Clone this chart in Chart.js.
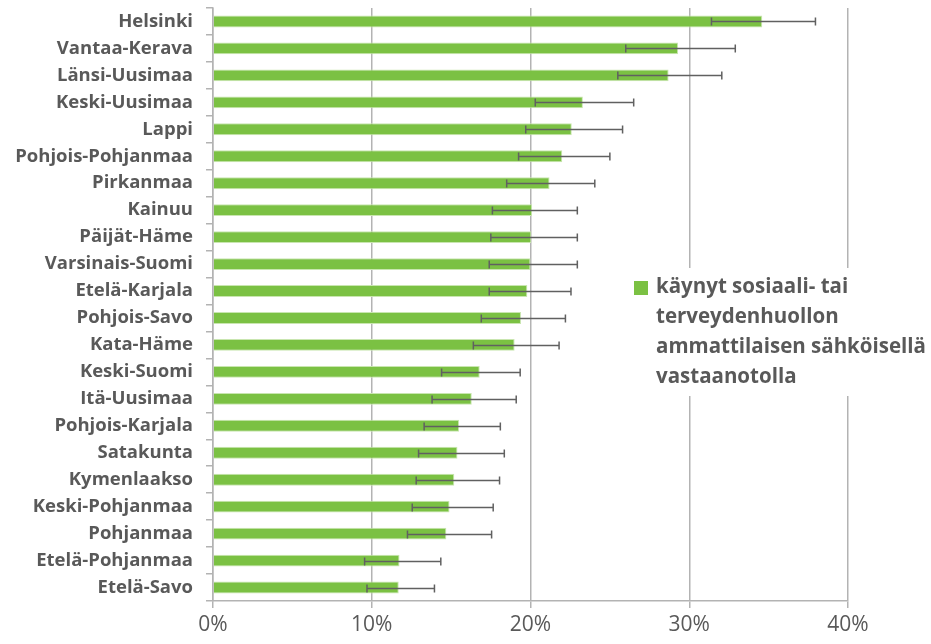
<!DOCTYPE html>
<html>
<head>
<meta charset="utf-8">
<script src="https://cdn.jsdelivr.net/npm/chart.js@4"></script>
<style>
  html,body{margin:0;padding:0;background:#fff;}
  #wrap{width:931px;height:644px;position:relative;}
</style>
</head>
<body>
<div id="wrap"><canvas id="chart"></canvas></div>
<script>
/* alueet, osuus (%) ja 95 %:n luottamusvälit */
const regions = ["Helsinki","Vantaa-Kerava","Länsi-Uusimaa","Keski-Uusimaa","Lappi","Pohjois-Pohjanmaa",
  "Pirkanmaa","Kainuu","Päijät-Häme","Varsinais-Suomi","Etelä-Karjala","Pohjois-Savo","Kata-Häme",
  "Keski-Suomi","Itä-Uusimaa","Pohjois-Karjala","Satakunta","Kymenlaakso","Keski-Pohjanmaa",
  "Pohjanmaa","Etelä-Pohjanmaa","Etelä-Savo"];
const share = [34.6,29.3,28.7,23.3,22.6,22.0,21.2,20.1,20.05,20.0,19.8,19.4,19.0,16.8,16.3,15.5,15.4,15.2,14.9,14.7,11.75,11.7];
const ciLow = [31.4,26.0,25.5,20.3,19.7,19.25,18.5,17.6,17.5,17.4,17.4,16.9,16.4,14.4,13.8,13.3,12.95,12.8,12.55,12.25,9.55,9.7];
const ciHigh = [37.95,32.9,32.05,26.5,25.8,25.0,24.05,22.95,22.95,22.95,22.55,22.2,21.8,19.35,19.1,18.1,18.35,18.05,17.65,17.55,14.35,13.95];
const xTicks = [0,10,20,30,40];
const seriesLabel = ["käynyt sosiaali- tai","terveydenhuollon","ammattilaisen sähköisellä","vastaanotolla"];

const GREEN = "#7bc143";
const TEXT = "#595959";
const GRID = "#b3b3b3";

// virhepalkit piirretään palkkien päälle x-skaalan kautta
const errorBars = {
  id:"errorBars",
  afterDatasetsDraw(chart){
    const {ctx, scales:{x}} = chart;
    const meta = chart.getDatasetMeta(0);
    ctx.save();
    ctx.strokeStyle = "#606060";
    ctx.lineWidth = 1.5;
    meta.data.forEach((bar,i)=>{
      const y = Math.round(bar.y)+0.5;
      const x1 = x.getPixelForValue(ciLow[i]);
      const x2 = x.getPixelForValue(ciHigh[i]);
      ctx.beginPath();
      ctx.moveTo(x1,y); ctx.lineTo(x2,y);
      ctx.moveTo(x1,y-4); ctx.lineTo(x1,y+4);
      ctx.moveTo(x2,y-4); ctx.lineTo(x2,y+4);
      ctx.stroke();
    });
    ctx.restore();
  }
};

// selite oikealla, valkoinen tausta peittää ruudukon
const sideLegend = {
  id:"sideLegend",
  afterDraw(chart){
    const ctx = chart.ctx;
    ctx.save();
    ctx.fillStyle = "#fff";
    ctx.fillRect(622,268,309,128);
    ctx.fillStyle = GREEN;
    ctx.fillRect(634,281,14,14);
    ctx.fillStyle = TEXT;
    ctx.font = "700 20.5px 'Open Sans'";
    ctx.textBaseline = "middle";
    seriesLabel.forEach((t,i)=>ctx.fillText(t,656,287+i*30));
    ctx.restore();
  }
};

new Chart(document.getElementById("chart"), {
  type:"bar",
  data:{
    labels:regions,
    datasets:[{
      label:seriesLabel.join(" "),
      data:share,
      backgroundColor:GREEN,
      borderColor:"#c9e6b0",
      borderWidth:1,
      barPercentage:0.44,
      categoryPercentage:1
    }]
  },
  options:{
    indexAxis:"y",
    responsive:true,
    maintainAspectRatio:false,
    animation:false,
    layout:{padding:{top:8,right:83,left:0,bottom:0}},
    plugins:{legend:{display:false}, tooltip:{enabled:false}},
    scales:{
      x:{
        min:0, max:40,
        afterBuildTicks(scale){ scale.ticks = xTicks.map(v=>({value:v})); },
        afterFit(scale){ scale.height = 43; },
        grid:{color:GRID, lineWidth:1.5, tickLength:7, drawTicks:true},
        border:{color:GRID, width:1.5},
        ticks:{color:TEXT, font:{family:"Open Sans", size:21}, padding:4, callback:v=>v+"%"}
      },
      y:{
        afterFit(scale){ scale.width = 213; scale.paddingTop = 0; scale.paddingBottom = 0; },
        grid:{drawOnChartArea:false, color:GRID, lineWidth:1.5, tickLength:7, offset:true},
        border:{color:GRID, width:1.5},
        ticks:{color:TEXT, font:{family:"Open Sans", size:18.5, weight:"700"}, padding:13, autoSkip:false}
      }
    }
  },
  plugins:[errorBars, sideLegend]
});
</script>
</body>
</html>
